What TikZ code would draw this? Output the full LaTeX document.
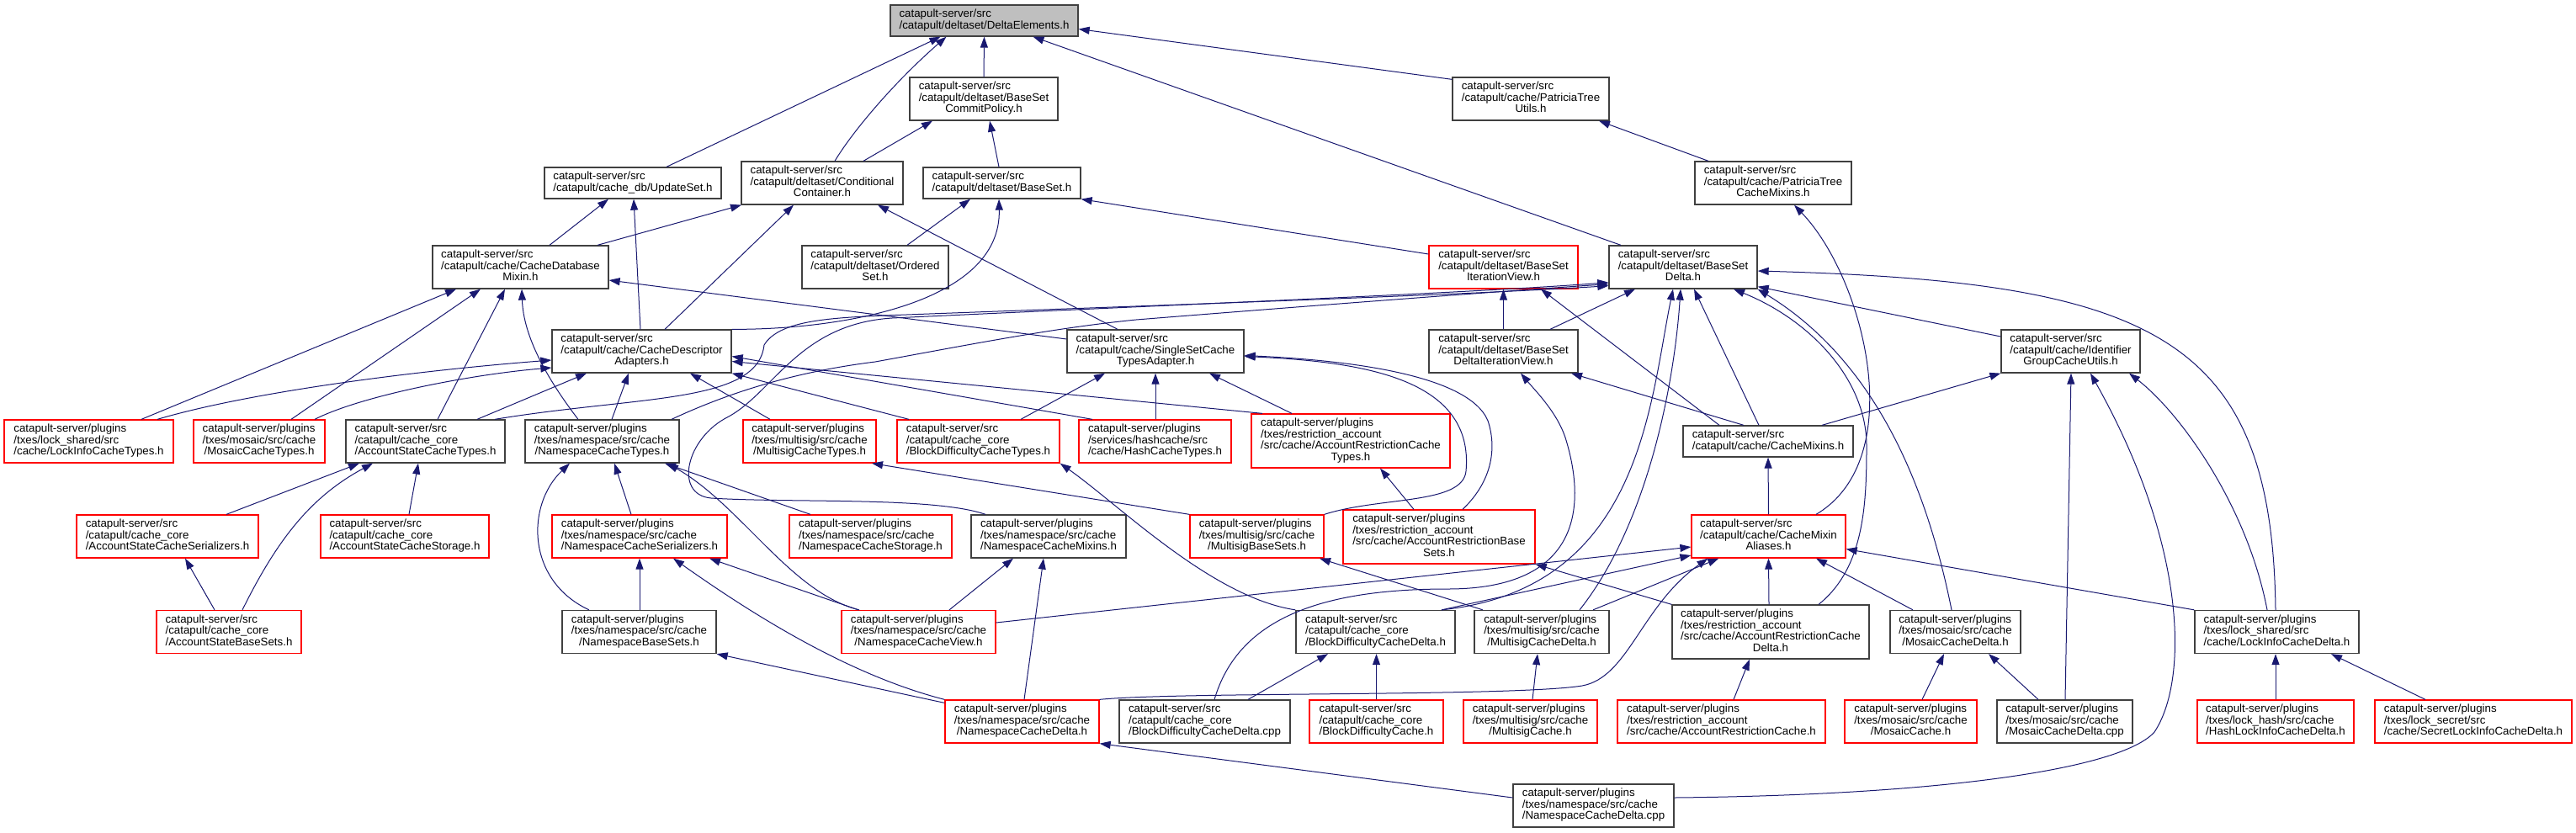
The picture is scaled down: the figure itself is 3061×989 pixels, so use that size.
\documentclass[tikz,border=0pt]{standalone}
\usepackage{fontspec}
\setmainfont{Liberation Sans}
\usetikzlibrary{arrows.meta}
\definecolor{edgec}{HTML}{191970}
\definecolor{nodeb}{HTML}{404040}
\definecolor{mainfill}{HTML}{BFBFBF}
\newcommand\labII[2]{\begin{tabular}{@{}l@{}}#1\\\multicolumn{1}{@{}c@{}}{#2}\end{tabular}}
\newcommand\labIII[3]{\begin{tabular}{@{}l@{}}#1\\#2\\\multicolumn{1}{@{}c@{}}{#3}\end{tabular}}
\newcommand\labIV[4]{\begin{tabular}{@{}l@{}}#1\\#2\\#3\\\multicolumn{1}{@{}c@{}}{#4}\end{tabular}}
\begin{document}
\begin{tikzpicture}[x=1pt,y=-1pt,
  nbox/.style={draw=nodeb, line width=1.3pt, fill=white, inner sep=0pt, font=\fontsize{13.3}{13}\selectfont},
  rbox/.style={nbox, draw=red},
  incl/.style={draw=edgec, line width=1pt, -{Triangle[length=13pt,width=9pt]}},
  hII/.style={minimum height=37pt}, hIII/.style={minimum height=51pt}, hIV/.style={minimum height=64pt}]
\useasboundingbox (0,0) rectangle (3061,989);
% row 0-2
\node[nbox,hII,minimum width=223pt,fill=mainfill] (DE) at (1169.5,24.5) {\labII{catapult-server/src}{/catapult/deltaset/DeltaElements.h}};
\node[nbox,hIII,minimum width=176pt] (BSCP) at (1169,117.5) {\labIII{catapult-server/src}{/catapult/deltaset/BaseSet}{CommitPolicy.h}};
\node[nbox,hIII,minimum width=186pt] (PTU) at (1819,117.5) {\labIII{catapult-server/src}{/catapult/cache/PatriciaTree}{Utils.h}};
\node[nbox,hII,minimum width=210pt] (US) at (752,217.5) {\labII{catapult-server/src}{/catapult/cache\_db/UpdateSet.h}};
\node[nbox,hIII,minimum width=192pt] (CC) at (977,217.5) {\labIII{catapult-server/src}{/catapult/deltaset/Conditional}{Container.h}};
\node[nbox,hII,minimum width=187pt] (BS) at (1190.5,217.5) {\labII{catapult-server/src}{/catapult/deltaset/BaseSet.h}};
\node[nbox,hIII,minimum width=186pt] (PTCM) at (2107,217.5) {\labIII{catapult-server/src}{/catapult/cache/PatriciaTree}{CacheMixins.h}};
% row 3
\node[nbox,hIII,minimum width=209pt] (CDM) at (618.5,317.5) {\labIII{catapult-server/src}{/catapult/cache/CacheDatabase}{Mixin.h}};
\node[nbox,hIII,minimum width=174pt] (OS) at (1040,317.5) {\labIII{catapult-server/src}{/catapult/deltaset/Ordered}{Set.h}};
\node[rbox,hIII,minimum width=177pt] (BSIV) at (1786.5,317.5) {\labIII{catapult-server/src}{/catapult/deltaset/BaseSet}{IterationView.h}};
\node[nbox,hIII,minimum width=176pt] (BSD) at (2000,317.5) {\labIII{catapult-server/src}{/catapult/deltaset/BaseSet}{Delta.h}};
% row 4
\node[nbox,hIII,minimum width=213pt] (CDA) at (762.5,417.5) {\labIII{catapult-server/src}{/catapult/cache/CacheDescriptor}{Adapters.h}};
\node[nbox,hIII,minimum width=210pt] (SSCTA) at (1373,417.5) {\labIII{catapult-server/src}{/catapult/cache/SingleSetCache}{TypesAdapter.h}};
\node[nbox,hIII,minimum width=177pt] (BSDIV) at (1786.5,417.5) {\labIII{catapult-server/src}{/catapult/deltaset/BaseSet}{DeltaIterationView.h}};
\node[nbox,hIII,minimum width=165pt] (IGCU) at (2460.5,417.5) {\labIII{catapult-server/src}{/catapult/cache/Identifier}{GroupCacheUtils.h}};
% row 5
\node[rbox,hIII,minimum width=201pt] (LICT) at (105.5,524.5) {\labIII{catapult-server/plugins}{/txes/lock\_shared/src}{/cache/LockInfoCacheTypes.h}};
\node[rbox,hIII,minimum width=156pt] (MCT) at (308,524.5) {\labIII{catapult-server/plugins}{/txes/mosaic/src/cache}{/MosaicCacheTypes.h}};
\node[nbox,hIII,minimum width=189pt] (ASCT) at (505.5,524.5) {\labIII{catapult-server/src}{/catapult/cache\_core}{/AccountStateCacheTypes.h}};
\node[nbox,hIII,minimum width=183pt] (NCT) at (715.5,524.5) {\labIII{catapult-server/plugins}{/txes/namespace/src/cache}{/NamespaceCacheTypes.h}};
\node[rbox,hIII,minimum width=158pt] (MSCT) at (962,524.5) {\labIII{catapult-server/plugins}{/txes/multisig/src/cache}{/MultisigCacheTypes.h}};
\node[rbox,hIII,minimum width=193pt] (BDCT) at (1162.5,524.5) {\labIII{catapult-server/src}{/catapult/cache\_core}{/BlockDifficultyCacheTypes.h}};
\node[rbox,hIII,minimum width=181pt] (HCT) at (1372.5,524.5) {\labIII{catapult-server/plugins}{/services/hashcache/src}{/cache/HashCacheTypes.h}};
\node[rbox,hIV,minimum width=236pt] (ARCT) at (1605,524) {\labIV{catapult-server/plugins}{/txes/restriction\_account}{/src/cache/AccountRestrictionCache}{Types.h}};
\node[nbox,hII,minimum width=202pt] (CM) at (2101,524.5) {\labII{catapult-server/src}{/catapult/cache/CacheMixins.h}};
% row 6
\node[rbox,hIII,minimum width=216pt] (ASCS) at (199,637.5) {\labIII{catapult-server/src}{/catapult/cache\_core}{/AccountStateCacheSerializers.h}};
\node[rbox,hIII,minimum width=200pt] (ASCSt) at (481,637.5) {\labIII{catapult-server/src}{/catapult/cache\_core}{/AccountStateCacheStorage.h}};
\node[rbox,hIII,minimum width=208pt] (NCS) at (760,637.5) {\labIII{catapult-server/plugins}{/txes/namespace/src/cache}{/NamespaceCacheSerializers.h}};
\node[rbox,hIII,minimum width=193pt] (NCSt) at (1034.5,637.5) {\labIII{catapult-server/plugins}{/txes/namespace/src/cache}{/NamespaceCacheStorage.h}};
\node[nbox,hIII,minimum width=184pt] (NCM) at (1246,637.5) {\labIII{catapult-server/plugins}{/txes/namespace/src/cache}{/NamespaceCacheMixins.h}};
\node[rbox,hIII,minimum width=159pt] (MBS) at (1493.5,637.5) {\labIII{catapult-server/plugins}{/txes/multisig/src/cache}{/MultisigBaseSets.h}};
\node[rbox,hIV,minimum width=228pt] (ARBS) at (1710,638) {\labIV{catapult-server/plugins}{/txes/restriction\_account}{/src/cache/AccountRestrictionBase}{Sets.h}};
\node[rbox,hIII,minimum width=183pt] (CMA) at (2101.5,637.5) {\labIII{catapult-server/src}{/catapult/cache/CacheMixin}{Aliases.h}};
% row 7
\node[rbox,hIII,minimum width=172pt] (ASBS) at (272,751) {\labIII{catapult-server/src}{/catapult/cache\_core}{/AccountStateBaseSets.h}};
\node[nbox,hIII,minimum width=183pt] (NBS) at (759.5,751) {\labIII{catapult-server/plugins}{/txes/namespace/src/cache}{/NamespaceBaseSets.h}};
\node[rbox,hIII,minimum width=183pt] (NCV) at (1091.5,751) {\labIII{catapult-server/plugins}{/txes/namespace/src/cache}{/NamespaceCacheView.h}};
\node[nbox,hIII,minimum width=189pt] (BDCD) at (1634.5,751) {\labIII{catapult-server/src}{/catapult/cache\_core}{/BlockDifficultyCacheDelta.h}};
\node[nbox,hIII,minimum width=160pt] (MSCD) at (1832,751) {\labIII{catapult-server/plugins}{/txes/multisig/src/cache}{/MultisigCacheDelta.h}};
\node[nbox,hIV,minimum width=234pt] (ARCD) at (2104,751) {\labIV{catapult-server/plugins}{/txes/restriction\_account}{/src/cache/AccountRestrictionCache}{Delta.h}};
\node[nbox,hIII,minimum width=155pt] (MCD) at (2323.5,751) {\labIII{catapult-server/plugins}{/txes/mosaic/src/cache}{/MosaicCacheDelta.h}};
\node[nbox,hIII,minimum width=195pt] (LICD) at (2705.5,751) {\labIII{catapult-server/plugins}{/txes/lock\_shared/src}{/cache/LockInfoCacheDelta.h}};
% row 8
\node[rbox,hIII,minimum width=183pt] (NCD) at (1214.5,857.5) {\labIII{catapult-server/plugins}{/txes/namespace/src/cache}{/NamespaceCacheDelta.h}};
\node[nbox,hIII,minimum width=203pt] (BDCDcpp) at (1431.5,857.5) {\labIII{catapult-server/src}{/catapult/cache\_core}{/BlockDifficultyCacheDelta.cpp}};
\node[rbox,hIII,minimum width=159pt] (BDC) at (1635.5,857.5) {\labIII{catapult-server/src}{/catapult/cache\_core}{/BlockDifficultyCache.h}};
\node[rbox,hIII,minimum width=159pt] (MSC) at (1818.5,857.5) {\labIII{catapult-server/plugins}{/txes/multisig/src/cache}{/MultisigCache.h}};
\node[rbox,hIII,minimum width=247pt] (ARC) at (2045.5,857.5) {\labIII{catapult-server/plugins}{/txes/restriction\_account}{/src/cache/AccountRestrictionCache.h}};
\node[rbox,hIII,minimum width=157pt] (MC) at (2270.5,857.5) {\labIII{catapult-server/plugins}{/txes/mosaic/src/cache}{/MosaicCache.h}};
\node[nbox,hIII,minimum width=161pt] (MCDcpp) at (2453.5,857.5) {\labIII{catapult-server/plugins}{/txes/mosaic/src/cache}{/MosaicCacheDelta.cpp}};
\node[rbox,hIII,minimum width=186pt] (HLICD) at (2704,857.5) {\labIII{catapult-server/plugins}{/txes/lock\_hash/src/cache}{/HashLockInfoCacheDelta.h}};
\node[rbox,hIII,minimum width=234pt] (SLICD) at (2939,857.5) {\labIII{catapult-server/plugins}{/txes/lock\_secret/src}{/cache/SecretLockInfoCacheDelta.h}};
% row 9
\node[nbox,hIII,minimum width=191pt] (NCDcpp) at (1893.5,957.5) {\labIII{catapult-server/plugins}{/txes/namespace/src/cache}{/NamespaceCacheDelta.cpp}};

% ---------------- edges (includer -> included) ----------------
\draw[incl] ([xshift=40pt]US.north) -- ([xshift=-52pt]DE.south);
\draw[incl] ([xshift=15pt]CC.north) .. controls (1012,158) and (1060,100) .. ([xshift=-45pt]DE.south);
\draw[incl] (BSCP.north) -- (DE.south);
\draw[incl] ([xshift=-74pt]BSD.north) -- ([xshift=58pt]DE.south);
\draw[incl] ([yshift=-3pt]PTU.north west) -- ([yshift=-10pt]DE.east);
\draw[incl] ([xshift=49pt]CC.north) -- ([xshift=-61pt]BSCP.south);
\draw[incl] ([xshift=-3.5pt]BS.north) -- ([xshift=7pt]BSCP.south);
\draw[incl] ([xshift=-77pt]PTCM.north) -- ([xshift=81pt]PTU.south);
\draw[incl] ([xshift=34.5pt]CDM.north) -- ([xshift=-29pt]US.south);
\draw[incl] ([xshift=-1.5pt]CDA.north) -- ([xshift=1pt]US.south);
\draw[incl] ([xshift=91.5pt]CDM.north) -- ([xshift=-96pt]CC.south);
\draw[incl] ([xshift=27.5pt]CDA.north) -- ([xshift=-34pt]CC.south);
\draw[incl] ([xshift=-45pt]SSCTA.north) -- ([xshift=66pt]CC.south);
\draw[incl] ([xshift=38pt]OS.north) -- ([xshift=-37.5pt]BS.south);
\draw[incl] (CDA.north east) .. controls (1000,392) and (1190,360) .. ([xshift=-3.5pt]BS.south);
\draw[incl] ([yshift=14.5pt]SSCTA.west) -- ([yshift=-15.5pt]CDM.east);
\draw[incl] ([xshift=62.5pt]LICT.north) -- ([xshift=-76.5pt]CDM.south);
\draw[incl] ([xshift=38pt]MCT.north) -- ([xshift=-47.5pt]CDM.south);
\draw[incl] ([xshift=14.5pt]ASCT.north) -- ([xshift=-18.5pt]CDM.south);
\draw[incl] ([xshift=-28.5pt]NCT.north) .. controls (650,450) and (622,400) .. ([xshift=1.5pt]CDM.south);
\draw[incl] ([xshift=81.5pt]LICT.north) .. controls (300,465) and (500,440) .. ([yshift=-10.5pt]CDA.west);
\draw[incl] ([xshift=66pt]MCT.north) .. controls (430,470) and (560,445) .. ([yshift=-19.5pt]CDA.west);
\draw[incl] ([xshift=61.5pt]ASCT.north) -- ([xshift=-65.5pt]CDA.south);
\draw[incl] ([xshift=11.5pt]NCT.north) -- ([xshift=-15.5pt]CDA.south);
\draw[incl] ([xshift=-47pt]MSCT.north) -- ([xshift=57.5pt]CDA.south);
\draw[incl] ([xshift=-82.5pt]BDCT.north) -- (CDA.south east);
\draw[incl] ([xshift=-74.5pt]HCT.north) -- ([yshift=-6pt]CDA.east);
\draw[incl] ([xshift=-105pt]ARCT.north) -- ([yshift=-12pt]CDA.east);
% bundle into BaseSetDelta
\draw[incl] ([xshift=82.5pt]ASCT.north) .. controls (760,470) and (900,480) .. (908,410) .. controls (925,382) and (980,378) .. (1050,375) .. controls (1400,362) and (1750,350) .. ([yshift=4pt]BSD.south west);
\draw[incl] ([xshift=82.5pt]NCT.north) .. controls (880,460) and (960,440) .. (1040,430) .. controls (1150,410) and (1250,390) .. (1350,380) .. controls (1600,360) and (1800,345) .. ([yshift=6pt]BSD.south west);
\draw[incl] ([xshift=-75pt]NCM.north) .. controls (1110,590) and (940,598) .. (845,592) .. controls (800,588) and (815,520) .. (866,495) .. controls (920,465) and (950,385) .. (1060,378) .. controls (1400,362) and (1750,348) .. ([yshift=8pt]BSD.south west);
\draw[incl] ([yshift=15.5pt]BSIV.west) -- (BS.south east);
\draw[incl] (BSDIV.north) -- (BSIV.south);
\draw[incl] ([xshift=55.5pt]BSDIV.north) -- ([xshift=-57pt]BSD.south);
\draw[incl] ([xshift=-58pt]CM.north) -- ([xshift=44.5pt]BSIV.south);
\draw[incl] ([xshift=-29pt]CM.north) -- ([xshift=80.5pt]BSDIV.south);
\draw[incl] ([xshift=-11pt]CM.north) -- ([xshift=13pt]BSD.south);
\draw[incl] ([xshift=64pt]CM.north) -- (IGCU.south west);
\draw[incl] ([yshift=17.5pt]IGCU.west) -- ([yshift=3pt]BSD.south east);
\draw[incl] ([xshift=-1.5pt]LICD.north) .. controls (2700,400) and (2560,335) .. ([yshift=-4.5pt]BSD.east);
\draw[incl] ([xshift=0.5pt]MCDcpp.north) -- ([xshift=0.5pt]IGCU.south);
\draw[incl] ([yshift=9.5pt]NCDcpp.east) .. controls (2300,945) and (2520,915) .. (2560,870) .. controls (2600,810) and (2600,650) .. ([xshift=23.5pt]IGCU.south);
\draw[incl] ([xshift=-11.5pt]LICD.north) .. controls (2670,600) and (2590,490) .. ([xshift=69.5pt]IGCU.south);
\draw[incl] (CMA.north) -- (CM.south);
\draw[incl] ([xshift=56.5pt]CMA.north) .. controls (2270,545) and (2215,330) .. ([xshift=25pt]PTCM.south);
\draw[incl] ([xshift=57pt]ARCD.north) .. controls (2215,675) and (2218,600) .. (2218,530) .. controls (2218,450) and (2150,380) .. ([xshift=60pt]BSD.south);
\draw[incl] ([xshift=-4.5pt]MCD.north) .. controls (2290,580) and (2230,430) .. (BSD.south east);
\draw[incl] ([xshift=-50.5pt]MCD.north) -- ([xshift=56.5pt]CMA.south);
\draw[incl] ([xshift=13.5pt]MC.north) -- ([xshift=-13.5pt]MCD.south);
\draw[incl] ([xshift=-31.5pt]MCDcpp.north) -- ([xshift=39.5pt]MCD.south);
\draw[incl] (LICD.north west) -- ([yshift=-15pt]CMA.east);
\draw[incl] (HLICD.north) -- ([xshift=-1.5pt]LICD.south);
\draw[incl] ([xshift=-57pt]SLICD.north) -- ([xshift=64.5pt]LICD.south);
\draw[incl] ([xshift=-2pt]ARCD.north) -- (CMA.south);
\draw[incl] ([xshift=14.5pt]ARC.north) -- ([xshift=-25pt]ARCD.south);
\draw[incl] (ARCD.north west) -- (ARBS.south east);
\draw[incl] ([xshift=61pt]MSCD.north) -- ([xshift=33pt]CMA.south west);
\draw[incl] (NCD.north east) .. controls (1400,822) and (1800,828) .. (1880,815) .. controls (1935,805) and (1950,720) .. ([xshift=20pt]CMA.south west);
\draw[incl] ([xshift=78.5pt]BDCD.north) -- ([yshift=-22.5pt]CMA.west);
\draw[incl] ([yshift=11pt]NCV.east) -- ([yshift=-12.5pt]CMA.west);
\draw[incl] ([xshift=78.5pt]BDCD.north) .. controls (1950,700) and (1960,480) .. ([xshift=-12pt]BSD.south);
\draw[incl] ([xshift=45pt]MSCD.north) .. controls (1960,620) and (1990,450) .. ([xshift=-3pt]BSD.south);
\draw[incl] ([xshift=-70pt]MSCD.north) -- ([xshift=74.5pt]MBS.south);
\draw[incl] ([xshift=2.5pt]MSC.north) -- ([xshift=-5pt]MSCD.south);
\draw[incl] (BDC.north) -- ([xshift=1pt]BDCD.south);
\draw[incl] ([xshift=51.5pt]BDCDcpp.north) -- ([xshift=-56.5pt]BDCD.south);
\draw[incl] ([xshift=11.5pt]BDCDcpp.north) .. controls (1470,740) and (1560,700) .. (1720,700) .. controls (1880,700) and (1885,600) .. (1860,520) .. controls (1850,490) and (1825,465) .. ([xshift=20.5pt]BSDIV.south);
\draw[incl] (BDCD.north west) .. controls (1440,710) and (1330,600) .. (BDCT.south east);
\draw[incl] (MBS.north west) -- ([xshift=74pt]MSCT.south);
\draw[incl] ([xshift=-30pt]ARBS.north) -- ([xshift=35pt]ARCT.south);
\draw[incl] ([xshift=28pt]ARBS.north) .. controls (1775,570) and (1778,530) .. (1768,500) .. controls (1745,445) and (1600,428) .. ([yshift=-5pt]SSCTA.east);
\draw[incl] (MBS.north east) .. controls (1640,590) and (1738,600) .. (1742,560) .. controls (1752,450) and (1620,430) .. ([yshift=-6pt]SSCTA.east);
\draw[incl] ([xshift=50.5pt]BDCT.north) -- ([xshift=-60pt]SSCTA.south);
\draw[incl] ([xshift=0.5pt]HCT.north) -- (SSCTA.south);
\draw[incl] ([xshift=-70pt]ARCT.north) -- ([xshift=64pt]SSCTA.south);
\draw[incl] ([xshift=70pt]ASCS.north) -- ([xshift=-78.5pt]ASCT.south);
\draw[incl] ([xshift=16pt]ASBS.north) .. controls (330,640) and (370,590) .. ([xshift=-62.5pt]ASCT.south);
\draw[incl] ([xshift=5pt]ASCSt.north) -- ([xshift=-8.5pt]ASCT.south);
\draw[incl] ([xshift=-17pt]ASBS.north) -- ([xshift=21pt]ASCS.south);
\draw[incl] ([xshift=-10pt]NCS.north) -- ([xshift=14.5pt]NCT.south);
\draw[incl] ([xshift=-59.5pt]NBS.north) .. controls (625,690) and (625,600) .. ([xshift=-38.5pt]NCT.south);
\draw[incl] ([xshift=-71.5pt]NCSt.north) -- ([xshift=74.5pt]NCT.south);
\draw[incl] ([xshift=-70.5pt]NCV.north) .. controls (940,705) and (880,600) .. ([xshift=77.5pt]NCT.south);
\draw[incl] ([xshift=-71.5pt]NCV.north) -- ([xshift=83pt]NCS.south);
\draw[incl] ([xshift=0.5pt]NBS.north) -- (NCS.south);
\draw[incl] (NCD.north west) .. controls (1000,800) and (880,720) .. ([xshift=40pt]NCS.south);
\draw[incl] ([yshift=-4pt]NCD.north west) -- (NBS.south east);
\draw[incl] ([xshift=36.5pt]NCV.north) -- ([xshift=-42pt]NCM.south);
\draw[incl] ([xshift=2.5pt]NCD.north) -- ([xshift=-6pt]NCM.south);
\draw[incl] ([yshift=9.5pt]NCDcpp.west) -- (NCD.south east);
\end{tikzpicture}
\end{document}
